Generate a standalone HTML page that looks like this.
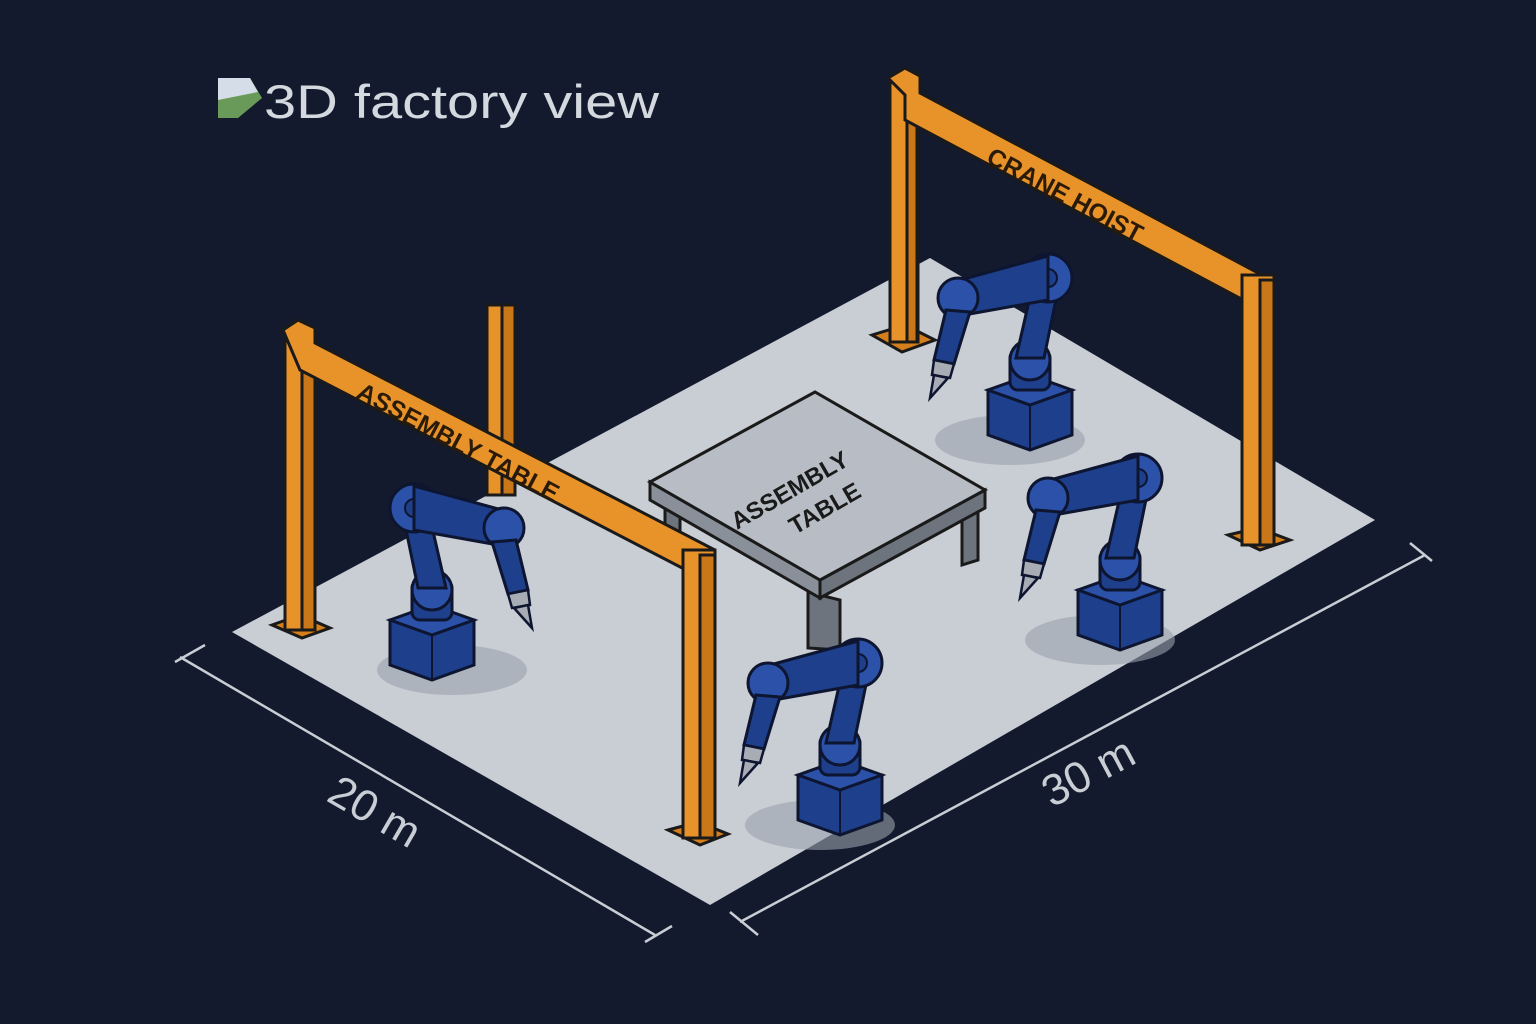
<!DOCTYPE html>
<html><head><meta charset="utf-8"><style>
html,body{margin:0;padding:0;background:#131a2e;width:1536px;height:1024px;overflow:hidden}
svg{display:block}
text{font-family:"Liberation Sans","DejaVu Sans",sans-serif}
</style></head><body>
<svg width="1536" height="1024" viewBox="0 0 1536 1024" xmlns="http://www.w3.org/2000/svg">
<defs>
<g id="robot">
  <ellipse cx="20" cy="10" rx="75" ry="25" fill="#9aa1ab" opacity="0.6"/>
  <path d="M-42,-40 L-42,5 L0,20 L42,5 L42,-40 Z" fill="#1e3f8c" stroke="#0d1530" stroke-width="3"/>
  <path d="M-42,-40 L0,-55 L42,-40 L0,-25 Z" fill="#2b52a8" stroke="#0d1530" stroke-width="3"/>
  <path d="M0,-25 L0,20" stroke="#0d1530" stroke-width="2"/>
  <rect x="-20" y="-80" width="40" height="40" rx="8" fill="#1e3f8c" stroke="#0d1530" stroke-width="3"/>
  <circle cx="0" cy="-70" r="20" fill="#2b52a8" stroke="#0d1530" stroke-width="3"/>
  <path d="M-14,-72 L-30,-150 L-5,-155 L14,-72 Z" fill="#1e3f8c" stroke="#0d1530" stroke-width="3"/>
  <circle cx="-18" cy="-152" r="24" fill="#2b52a8" stroke="#0d1530" stroke-width="3"/>
  <circle cx="-18" cy="-152" r="9" fill="#1e3f8c" stroke="#0d1530" stroke-width="2"/>
  <path d="M-18,-174 L70,-150 L66,-115 L-18,-130 Z" fill="#1e3f8c" stroke="#0d1530" stroke-width="3"/>
  <circle cx="72" cy="-132" r="20" fill="#2b52a8" stroke="#0d1530" stroke-width="3"/>
  <path d="M60,-118 L84,-120 L96,-70 L76,-66 Z" fill="#1e3f8c" stroke="#0d1530" stroke-width="3"/>
  <path d="M76,-66 L96,-70 L98,-55 L80,-52 Z" fill="#a8adb5" stroke="#0d1530" stroke-width="2.5"/>
  <path d="M82,-52 L96,-55 L100,-32 Z" fill="#a8adb5" stroke="#0d1530" stroke-width="2.5"/>
</g>
</defs>

<!-- title -->
<path d="M218,78 L250,78 L262,98 L238,118 L218,118 Z" fill="#6a9a5a"/>
<path d="M218,78 L250,78 L258,92 L218,100 Z" fill="#d4dde8"/>
<text x="264" y="118" font-size="47" fill="#d4d8df" textLength="395" lengthAdjust="spacingAndGlyphs">3D factory view</text>

<!-- floor -->
<polygon points="232,632 930,258 1375,520 710,905" fill="#c9cdd4"/>

<!-- dimension lines -->
<g stroke="#c9cdd4" stroke-width="2.5" fill="none">
<line x1="180" y1="657" x2="655" y2="935"/>
<line x1="175" y1="662" x2="205" y2="645"/>
<line x1="645" y1="942" x2="672" y2="926"/>
<line x1="740" y1="922" x2="1425" y2="555"/>
<line x1="730" y1="912" x2="758" y2="935"/>
<line x1="1410" y1="543" x2="1432" y2="561"/>
</g>
<text transform="translate(325,800) rotate(30)" font-size="44" fill="#c9cdd4">20 m</text>
<text transform="translate(1052,808) rotate(-28)" font-size="44" fill="#c9cdd4">30 m</text>

<!-- crane hoist (back) -->
<g stroke="#1a1a1a" stroke-width="3" fill="#e8922a">
<path d="M872,335 L905,325 L935,340 L902,352 Z" fill="#d47f1c"/>
<rect x="890" y="80" width="28" height="262"/>
<rect x="907" y="90" width="10" height="252" fill="#c97718"/>
<path d="M888,78 L905,68 L920,76 L920,93 L1262,275 L1262,310 L905,120 L905,95 Z"/>
<path d="M1228,535 L1258,528 L1290,540 L1260,550 Z" fill="#d47f1c"/>
<rect x="1242" y="275" width="32" height="270"/>
<rect x="1260" y="280" width="14" height="265" fill="#c97718"/>
</g>
<text transform="translate(985,162) rotate(28)" font-size="25" font-weight="bold" fill="#2a1a08">CRANE HOIST</text>

<!-- crane back post left -->
<g stroke="#1a1a1a" stroke-width="3" fill="#e8922a">
<rect x="487" y="305" width="28" height="190"/>
<rect x="502" y="305" width="13" height="190" fill="#c97718"/>
</g>

<!-- table -->
<g stroke="#1a1a1a" stroke-width="3">
<path d="M665,500 L665,530 L680,535 L680,510 Z" fill="#6e747d"/>
<path d="M808,592 L808,648 L840,650 L840,600 Z" fill="#6e747d"/>
<path d="M962,505 L962,565 L978,560 L978,505 Z" fill="#6e747d"/>
<polygon points="650,482 650,500 820,598 820,580" fill="#8a9099"/>
<polygon points="820,580 820,598 985,508 985,490" fill="#6e747d"/>
<polygon points="650,482 815,392 985,490 820,580" fill="#b8bdc5"/>
</g>
<text transform="translate(737,530) rotate(-30)" font-size="24" font-weight="bold" fill="#1a1a1a">ASSEMBLY</text>
<text transform="translate(795,535) rotate(-30)" font-size="24" font-weight="bold" fill="#1a1a1a">TABLE</text>

<!-- robots -->
<use href="#robot" transform="translate(1030,430) scale(-1,1)"/>
<use href="#robot" transform="translate(432,660)"/>
<use href="#robot" transform="translate(1120,630) scale(-1,1)"/>
<use href="#robot" transform="translate(840,815) scale(-1,1)"/>

<!-- crane front (assembly) -->
<g stroke="#1a1a1a" stroke-width="3" fill="#e8922a">
<path d="M272,625 L300,615 L330,628 L302,638 Z" fill="#d47f1c"/>
<rect x="285" y="330" width="30" height="300"/>
<rect x="302" y="340" width="13" height="290" fill="#c97718"/>
<path d="M283,330 L298,320 L315,328 L315,343 L715,550 L715,585 L300,370 Z"/>
<path d="M668,830 L698,822 L728,834 L700,845 Z" fill="#d47f1c"/>
<rect x="683" y="550" width="32" height="288"/>
<rect x="700" y="555" width="15" height="283" fill="#c97718"/>
</g>
<text transform="translate(355,397) rotate(28)" font-size="25" font-weight="bold" fill="#2a1a08">ASSEMBLY TABLE</text>
</svg>
</body></html>
